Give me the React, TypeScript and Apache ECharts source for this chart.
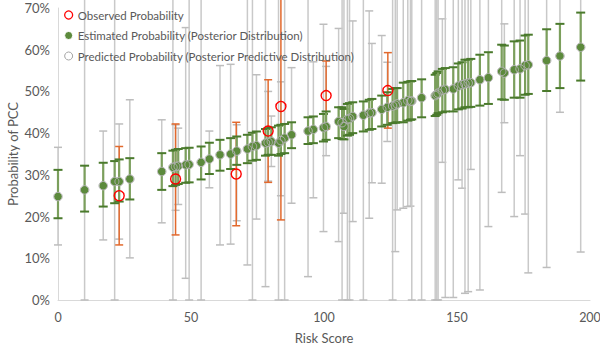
import React, { useEffect, useRef } from "react";
import * as echarts from "echarts";

// Risk score of each estimated point
const scores = [
  0, 10, 17, 21.3, 23, 27, 39, 43.2, 44.2, 45.2, 48, 49.3, 53.8, 56.9, 60.9, 64.9, 67.2,
  71.2, 73.1, 74.6, 78, 79, 80.2, 82.9, 83.8, 85.2, 87.8, 94, 96, 99.8, 100.8,
  105.5, 106.8, 107.5, 108.8, 109.6, 110.8, 114.8, 117, 118, 121.7, 123.8, 125.8, 126.8,
  127.5, 129.8, 131.5, 132.5, 133, 136.7, 141.8, 142.4, 142.9, 144.5, 145.6, 148.6,
  150.5, 151.9, 153, 154.2, 155.2, 158.6, 161.8, 166.8, 167.8, 171.5, 173.7, 175.6,
  176.8, 183.7, 188.7, 196.5,
];

// Estimated probability (posterior mean), %
const estimated = [
  24.8, 26.4, 27.4, 28.4, 28.4, 29.0, 30.8, 31.8, 32.0, 32.1, 32.4, 32.5, 33.0, 33.8, 34.8, 35.0, 35.7,
  36.2, 36.8, 37.0, 37.6, 37.8, 38.0, 37.6, 38.2, 38.8, 39.6, 40.5, 40.9, 41.3, 41.6,
  42.8, 42.5, 41.6, 43.3, 43.5, 44.0, 44.3, 44.8, 44.9, 45.7, 46.2, 46.5, 46.7,
  47.0, 47.3, 47.8, 47.6, 47.7, 48.5, 49.0, 49.3, 49.6, 50.3, 50.5, 50.6,
  51.3, 51.6, 51.8, 52.0, 52.1, 52.8, 53.3, 54.8, 54.4, 55.2, 55.4, 56.2,
  56.4, 57.4, 58.5, 60.6,
];

// Posterior credible interval, %
const estLow = [
  19.6, 21.2, 22.4, 23.2, 23.6, 24.1, 26.4, 27.3, 27.6, 27.8, 28.1, 28.2, 28.9, 30.2, 31.0, 31.4, 32.4,
  32.8, 33.4, 33.6, 34.6, 34.8, 34.8, 34.6, 35.0, 35.2, 36.4, 37.4, 37.6, 38.0, 38.4,
  38.8, 38.6, 38.5, 39.4, 39.6, 40.0, 40.4, 40.8, 41.0, 41.6, 42.0, 42.4, 42.5,
  42.6, 42.6, 43.0, 43.2, 43.3, 43.8, 44.1, 44.4, 44.8, 45.0, 45.2, 45.2,
  45.7, 45.9, 46.2, 46.2, 46.3, 46.6, 47.0, 48.1, 48.0, 48.5, 48.5, 49.2,
  49.4, 50.1, 50.8, 52.6,
];
const estHigh = [
  31.2, 32.2, 32.9, 33.3, 33.7, 34.0, 35.2, 35.8, 36.0, 36.2, 36.4, 36.5, 36.8, 37.7, 38.4, 38.8, 39.2,
  39.6, 40.1, 40.4, 41.0, 41.2, 41.4, 41.8, 42.0, 42.2, 42.6, 43.8, 44.0, 44.6, 45.2,
  46.2, 46.2, 45.8, 47.0, 47.2, 47.4, 47.6, 48.0, 48.2, 49.0, 49.8, 50.6, 50.8,
  50.8, 52.1, 52.3, 52.4, 52.5, 52.9, 54.0, 54.4, 54.8, 55.4, 55.6, 55.8,
  56.7, 57.0, 57.6, 57.6, 57.8, 58.8, 59.4, 61.2, 61.0, 62.0, 62.2, 63.4,
  63.6, 64.9, 66.2, 68.9,
];

// Posterior predictive interval, % (100 = open beyond the axis)
const predLow = [
  13.2, 0, 14.4, 0, 14.6, 10.1, 18.5, 0, 21.5, 22.9, 5.2, 0, 0, 26.9, 13.2, 13.4, 19.0,
  8.4, 0, 19.4, 3.2, 28.5, 32.0, 0, 25.0, 0, 23.2, 5.6, 24.5, 16.4, 34.6,
  14.0, 0, 20.8, 0, 0, 18.8, 0, 19.6, 28.1, 28.0, 38.0, 0, 11.6,
  21.6, 22.0, 22.4, 22.5, 0, 0, 0, 0, 0, 33.0, 0.6, 0.6,
  28.8, 26.8, 1.6, 2.0, 31.3, 2.4, 17.6, 25.8, 42.5, 20.0, 34.6, 20.6,
  6.5, 7.8, 45.0, 11.5,
];
const predHigh = [
  36.6, 100, 40.5, 100, 42.2, 48.0, 43.2, 100, 42.0, 41.2, 65.3, 100, 100, 40.5, 56.2, 56.5, 42.0,
  100, 100, 54.0, 100, 50.0, 44.1, 100, 52.3, 100, 55.7, 100, 57.1, 66.1, 56.0,
  65.1, 100, 100, 100, 100, 66.9, 100, 69.3, 61.5, 63.4, 57.0, 100, 100,
  100, 100, 100, 100, 100, 100, 100, 100, 100, 67.4, 100, 100,
  100, 100, 100, 100, 100, 100, 100, 100, 66.2, 100, 100, 100,
  100, 100, 100, 100,
];

// Observed probability with its interval, %
const obsScores = [23, 44.2, 67, 79, 83.8, 100.8, 124];
const obsValues = [25.0, 29.0, 30.2, 40.5, 46.4, 49.0, 50.2];
const obsLow = [13.2, 15.6, 17.8, 28.2, 19.2, 41.0, 41.2];
const obsHigh = [36.8, 42.2, 42.6, 52.8, 100, 57.3, 59.3];

const yTicks = [0, 10, 20, 30, 40, 50, 60, 70];
const xTicks = [0, 50, 100, 150, 200];

const FONT = "Lato, 'Open Sans', sans-serif";
const TEXT = "#595959";
const Y_MAX = 0.7;

const pct = (v: number) => v / 100;

// Vertical interval with caps; open-ended intervals run past the top edge
function makeErrorBar(color: string, width: number, capColor: string, capWidth: number, capHalf: number) {
  return (_params: any, api: any) => {
    const x = api.value(0);
    const lo = api.value(1);
    const hi = api.value(2);
    const open = hi > Y_MAX;
    const top = api.coord([x, open ? Y_MAX + 0.03 : hi]);
    const bot = api.coord([x, lo]);
    const children: any[] = [
      {
        type: "line",
        shape: { x1: bot[0], y1: bot[1], x2: top[0], y2: top[1] },
        style: { stroke: color, lineWidth: width },
      },
      {
        type: "line",
        shape: { x1: bot[0] - capHalf, y1: bot[1], x2: bot[0] + capHalf, y2: bot[1] },
        style: { stroke: capColor, lineWidth: capWidth },
      },
    ];
    if (!open) {
      children.push({
        type: "line",
        shape: { x1: top[0] - capHalf, y1: top[1], x2: top[0] + capHalf, y2: top[1] },
        style: { stroke: capColor, lineWidth: capWidth },
      });
    }
    return { type: "group", children };
  };
}

export default function App() {
  const ref = useRef<HTMLDivElement>(null);

  useEffect(() => {
    if (!ref.current) return;
    const chart = echarts.init(ref.current, null, { renderer: "svg" });

    const predBars = scores.map((s, i) => [s, pct(predLow[i]), pct(predHigh[i])]);
    const estBars = scores.map((s, i) => [s, pct(estLow[i]), pct(estHigh[i])]);
    const obsBars = obsScores.map((s, i) => [s, pct(obsLow[i]), pct(obsHigh[i])]);
    const estPoints = scores.map((s, i) => [s, pct(estimated[i])]);
    const obsPoints = obsScores.map((s, i) => [s, pct(obsValues[i])]);

    chart.setOption({
      animation: false,
      textStyle: { fontFamily: FONT },
      grid: { left: 58, right: 10, top: 8, bottom: 51, outerBoundsMode: "none", containLabel: false },
      legend: {
        orient: "vertical",
        left: 64,
        top: 9,
        padding: 0,
        itemGap: 8.5,
        itemWidth: 8,
        itemHeight: 8,
        textStyle: { color: TEXT, fontSize: 11.5, fontFamily: FONT },
        data: [
          { name: "Observed Probability", icon: "circle", itemStyle: { color: "rgba(255,255,255,0)", borderColor: "#ff0000", borderWidth: 1.3 } },
          { name: "Estimated Probability (Posterior Distribution)", icon: "circle", itemStyle: { color: "#5c8a3c", borderWidth: 1, borderColor: "#ffffff" } },
          { name: "Predicted Probability (Posterior Predictive Distribution)", icon: "circle", itemStyle: { color: "rgba(255,255,255,0)", borderColor: "#a6a6a6", borderWidth: 1 } },
        ],
      },
      xAxis: {
        type: "value",
        min: 0,
        max: 200,
        interval: 50,
        name: "Risk Score",
        nameLocation: "middle",
        nameGap: 31,
        nameMoveOverlap: false,
        nameTextStyle: { color: TEXT, fontSize: 13, fontFamily: FONT },
        axisLine: { show: true, lineStyle: { color: "#d9d9d9", width: 1 } },
        axisTick: { show: false },
        splitLine: { show: false },
        axisLabel: {
          color: TEXT,
          fontSize: 12.5,
          fontFamily: FONT,
          margin: 11,
          customValues: xTicks,
        },
      },
      yAxis: {
        type: "value",
        min: 0,
        max: Y_MAX,
        interval: 0.1,
        name: "Probability of PCC",
        nameLocation: "middle",
        nameGap: 39,
        nameMoveOverlap: false,
        nameTextStyle: { color: TEXT, fontSize: 13, fontFamily: FONT },
        axisLine: { show: true, lineStyle: { color: "#d9d9d9", width: 1 } },
        axisTick: { show: false },
        splitLine: { show: false },
        axisLabel: {
          color: TEXT,
          fontSize: 13,
          fontFamily: FONT,
          margin: 8,
          customValues: yTicks.map((t) => t / 100),
          formatter: (v: number) => `${Math.round(v * 100)}%`,
        },
      },
      series: [
        {
          type: "custom",
          name: "predBars",
          renderItem: makeErrorBar("#c9c9c9", 1.5, "#bdbdbd", 1.5, 4),
          data: predBars,
          encode: { x: 0, y: [1, 2] },
          silent: true,
          z: 1,
        },
        {
          type: "custom",
          name: "obsBars",
          renderItem: makeErrorBar("#e2692d", 1.5, "#e2692d", 1.5, 4),
          data: obsBars,
          encode: { x: 0, y: [1, 2] },
          silent: true,
          z: 2,
        },
        {
          type: "custom",
          name: "estBars",
          renderItem: makeErrorBar("#7b9f5c", 2.2, "#4a7a2c", 2, 4.5),
          data: estBars,
          encode: { x: 0, y: [1, 2] },
          silent: true,
          z: 3,
        },
        {
          type: "scatter",
          name: "Estimated Probability (Posterior Distribution)",
          data: estPoints,
          symbol: "circle",
          symbolSize: 8,
          itemStyle: { color: "#5c8a3c", opacity: 1 },
          z: 4,
        },
        {
          type: "scatter",
          name: "Predicted Probability (Posterior Predictive Distribution)",
          data: estPoints,
          symbol: "circle",
          symbolSize: 8.5,
          itemStyle: { color: "rgba(255,255,255,0)", borderColor: "#b0b0b0", borderWidth: 1, opacity: 1 },
          z: 5,
        },
        {
          type: "scatter",
          name: "Observed Probability",
          data: obsPoints,
          symbol: "circle",
          symbolSize: 10,
          itemStyle: { color: "rgba(255,255,255,0)", borderColor: "#ff0000", borderWidth: 1.4, opacity: 1 },
          z: 6,
        },
      ],
    });

    return () => chart.dispose();
  }, []);

  return (
    <div
      ref={ref}
      style={{ position: "fixed", left: 0, top: 0, width: 600, height: 351, background: "#ffffff" }}
    />
  );
}
